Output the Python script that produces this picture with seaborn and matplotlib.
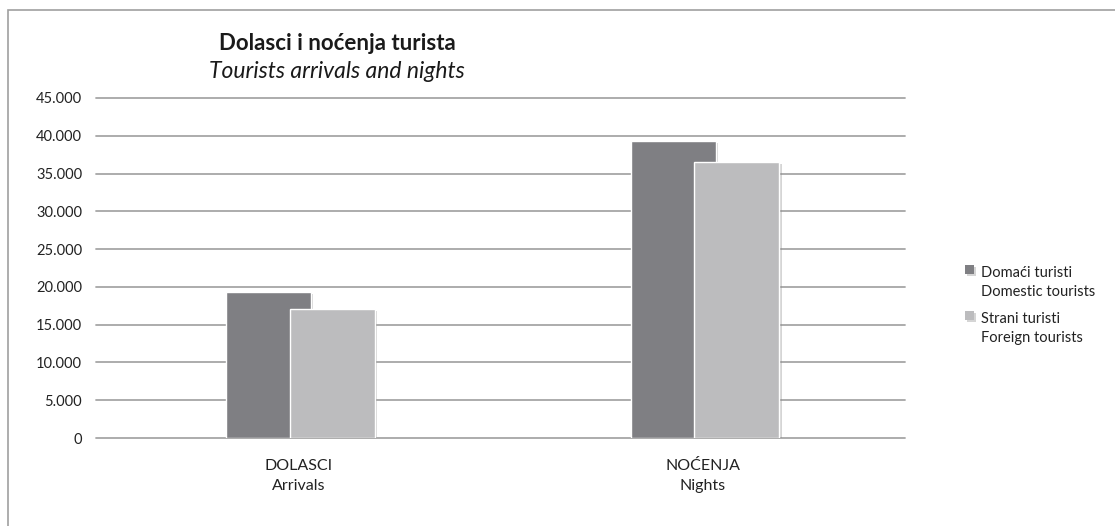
import pandas as pd
import matplotlib.pyplot as plt
import matplotlib.patheffects as pe
from matplotlib.patches import Rectangle
from matplotlib.ticker import FuncFormatter
import seaborn as sns

# Data
categories = ["DOLASCI\nArrivals", "NOĆENJA\nNights"]
groups = ["Domaći turisti\nDomestic tourists", "Strani turisti\nForeign tourists"]
domestic = [19300, 39300]
foreign = [17100, 36500]
colors = ["#7f7f83", "#bcbcbe"]

df = pd.DataFrame({
    "category": categories * 2,
    "group": [groups[0]] * 2 + [groups[1]] * 2,
    "value": domestic + foreign,
})

sns.set_theme(style="white")
plt.rcParams["font.family"] = ["Lato", "DejaVu Sans"]

fig = plt.figure(figsize=(11.15, 5.26), dpi=100)
ax = fig.add_axes([0.0861, 0.1673, 0.7256, 0.6464])

sns.barplot(data=df, x="category", y="value", hue="group", palette=colors,
            width=0.314, saturation=1, edgecolor="white", linewidth=1,
            legend=False, ax=ax)

# widen the dodged bars so that they overlap like in the original
shadow = [pe.SimplePatchShadow(offset=(1.5, -1.5), shadow_rgbFace="#888888", alpha=0.35), pe.Normal()]
for cont in ax.containers:
    for bar in cont:
        cx = bar.get_x() + bar.get_width() / 2
        bar.set_width(0.21)
        bar.set_x(cx - 0.105 + 0.006)
        bar.set_path_effects(shadow)
        bar.set_zorder(3)

ax.set_ylim(0, 45000)
ax.set_yticks(range(0, 45001, 5000))
ax.yaxis.set_major_formatter(FuncFormatter(lambda v, p: f"{int(v):,}".replace(",", ".")))
ax.yaxis.grid(True, color="#a6a6a6", linewidth=1.3, zorder=0)
ax.set_axisbelow(True)
for gl in ax.get_ygridlines():
    gl.set_clip_on(False)
for s in ax.spines.values():
    s.set_visible(False)
ax.tick_params(axis="y", length=0, pad=10, labelsize=10.5, labelcolor="#222222")
ax.tick_params(axis="x", length=0, pad=15, labelsize=11.5, labelcolor="#222222")
for lbl in ax.get_xticklabels():
    lbl.set_linespacing(1.6)
ax.set_xlabel("")
ax.set_ylabel("")

fig.text(337 / 1115, 1 - 43 / 526, "Dolasci i noćenja turista", ha="center", va="center",
         fontsize=16, fontweight="bold", color="#1a1a1a")
fig.text(337 / 1115, 1 - 71 / 526, "Tourists arrivals and nights", ha="center", va="center",
         fontsize=16.5, fontstyle="italic", color="#1a1a1a")

fs = 10.5
hh = 2.6
leg = ax.legend(ax.containers, groups, loc="upper left", bbox_to_anchor=(952 / 1115, 1 - 253 / 526),
                bbox_transform=fig.transFigure, frameon=False, fontsize=fs,
                handlelength=0.6, handleheight=hh, handletextpad=0.5, labelspacing=0.9)
for t in leg.get_texts():
    t.set_color("#222222")
    t.set_linespacing(1.45)
# move the small square down next to the first text line
for h in leg.legend_handles:
    h.set_height(0.6 * fs)
    h.set_y(hh * fs - 0.6 * fs - 10.5)
    h.set_edgecolor("none")

# outer chart border
fig.patches.append(Rectangle((8 / 1115, -0.1), 1.2, 1.1 - 10 / 526, transform=fig.transFigure,
                             fill=False, edgecolor="#a0a0a0", linewidth=1.2, figure=fig))

fig.savefig("out.png", dpi=100)
